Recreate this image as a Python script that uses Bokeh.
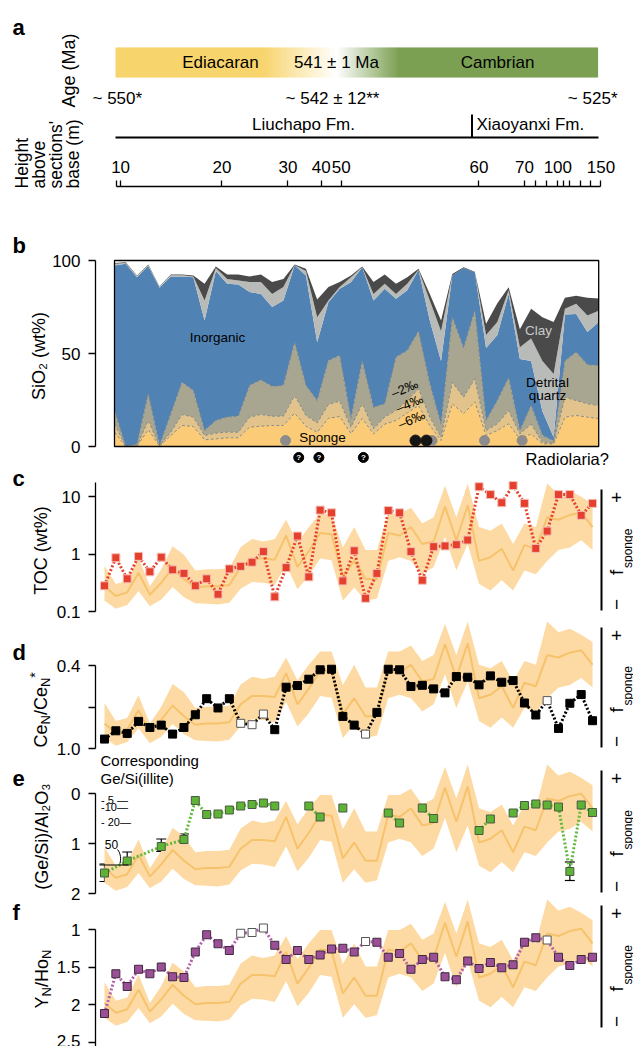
import numpy as np
from math import pi, log10
from bokeh.plotting import figure
from bokeh.models import (Range1d, LinearAxis, LogAxis, FixedTicker, Label, LinearScale, LogScale,
                          Whisker, ColumnDataSource, TeeHead)
from bokeh.embed import file_html
from bokeh.resources import INLINE
from bokeh.core.properties import value

FONT = "Liberation Sans"
W, H = 633, 1046

# ---------------- data ----------------
N = 44
idx = list(range(N))

# panel a : height axis (positions in sample-index units of panel b)
height_major_pos = [0.54, 9.54, 15.4, 18.35, 20.14, 32.36, 36.4, 39.37, 43.2]
height_major_labels = ["10", "20", "30", "40", "50", "60", "70", "100", "150"]
height_minor_pos = [0.18, 37.4, 38.37, 39.84, 40.45, 41.35, 42.25]

# panel b : cumulative SiO2 (wt%) boundaries
b_sponge_m6 = [7.7, 0, 0.2, 9.1, 0.2, 5.9, 11.3, 10.8, 3.6, 4.1, 4.7, 4.7, 10.4, 10.9, 11.3,
               11.3, 17.9, 10.9, 7.7, 15.2, 16.1, 7, 15, 6.8, 12, 14, 18, 22, 11.3, 3.2,
               23, 17.6, 24, 6, 8.6, 12.2, 4, 6.8, 1.4, 1.4, 15.8, 16.7, 15.8, 15]
b_sponge_m4 = [12.2, 0, 0.3, 14, 0.3, 7.7, 17.2, 15.8, 5.9, 7.2, 7.7, 7.7, 15.8, 17.2, 16.3,
               16.3, 27.4, 16.7, 12.7, 22.6, 24.4, 10.4, 23, 9.5, 15.8, 19.4, 24.7, 31, 15.8, 5,
               34.6, 26.5, 36.4, 8.6, 12.2, 19.4, 6.8, 12, 2.3, 1.8, 26.5, 24.7, 23, 22]
b_sponge_m2 = [19.4, 0, 1.4, 28.3, 0.5, 17.6, 34.6, 30.1, 8.6, 14, 15.8, 16.3, 32.8, 35.8, 32.3,
               32.8, 56, 32.8, 24.7, 46.2, 48.9, 15, 46, 21, 23, 48, 51.6, 62, 33.7, 12,
               69.5, 53, 73, 14, 24.7, 37, 8.6, 22, 6, 3, 46, 50.7, 44, 43.5]
b_inorganic_top = [97.3, 98.2, 91, 97, 85.3, 91.4, 91.4, 91, 67.7, 94.3, 87.5, 87.1, 83, 82, 75,
                   78.5, 97.5, 91.9, 56, 77.6, 84.8, 88.3, 96.4, 78.5, 84.8, 79.4, 84, 95, 67.7, 46,
                   92, 96, 93.7, 53, 60, 82, 47, 46, 19, 5, 71, 71.3, 61.5, 67]
b_quartz_top = [98.2, 98.7, 91.6, 97.5, 85.7, 92.1, 92.1, 91.4, 78.5, 96, 90.1, 89.2, 88.4, 88.4, 82,
                85.7, 97.5, 94.3, 69.5, 78.5, 85.7, 91, 96.4, 82, 87.5, 82, 87.5, 95, 78.5, 62,
                92, 96, 93.7, 60, 67, 84, 53.4, 58, 46, 39, 74, 76.7, 70.4, 73]
b_clay_top = [98.6, 99.1, 91.9, 97.8, 86, 92.5, 92.5, 91.9, 87.5, 96.8, 92.5, 92.5, 91.4, 92.5, 88.4,
              90.1, 97.8, 95.5, 79, 85.7, 88.4, 92, 96.8, 88.5, 92.5, 87.5, 91, 95.5, 82, 67.7,
              92.8, 96.4, 94, 66, 77, 85.6, 63, 74, 69.5, 67, 80, 81, 80, 79.6]
sponge_grey_pos = [15.19, 28.2, 32.86, 36.2]
sponge_black_pos = [26.73, 27.7]
question_pos = [16.36, 18.15, 22.1]

# model sponge fraction band (0 = -, 1 = +)
fs_med = [0.20, 0.12, 0.15, 0.31, 0.13, 0.23, 0.35, 0.26, 0.19, 0.20, 0.20, 0.21, 0.36, 0.43, 0.43,
          0.42, 0.62, 0.36, 0.49, 0.64, 0.63, 0.28, 0.41, 0.26, 0.26, 0.64, 0.62, 0.69, 0.55, 0.57,
          0.86, 0.58, 0.87, 0.41, 0.44, 0.51, 0.33, 0.54, 0.51, 0.77, 0.75, 0.79, 0.81, 0.69]
fs_hi = [0.37, 0.22, 0.245, 0.435, 0.20, 0.34, 0.53, 0.46, 0.33, 0.34, 0.34, 0.35, 0.525, 0.59, 0.57,
         0.59, 0.75, 0.56, 0.69, 0.80, 0.80, 0.52, 0.69, 0.50, 0.50, 0.80, 0.80, 0.85, 0.72, 0.77,
         1.03, 0.77, 1.05, 0.69, 0.66, 0.72, 0.55, 0.72, 0.69, 1.05, 0.96, 0.99, 0.94, 0.88]
fs_lo = [0.08, 0.015, 0.045, 0.16, 0.035, 0.09, 0.195, 0.11, 0.06, 0.055, 0.05, 0.065, 0.18, 0.235, 0.23,
         0.21, 0.38, 0.175, 0.285, 0.43, 0.415, 0.08, 0.19, 0.08, 0.10, 0.41, 0.44, 0.41, 0.30, 0.36,
         0.61, 0.33, 0.55, 0.22, 0.165, 0.25, 0.165, 0.33, 0.30, 0.41, 0.50, 0.52, 0.58, 0.50]

# panel c : TOC (wt%)
toc = [0.28, 0.86, 0.37, 0.91, 0.49, 0.88, 0.53, 0.46, 0.28, 0.37, 0.2, 0.55, 0.61, 0.72, 1.1,
       0.18, 0.58, 2.05, 0.4, 5.8, 5.2, 0.34, 1.14, 0.17, 0.46, 5.7, 5.2, 1.1, 0.35, 1.34,
       1.38, 1.45, 1.75, 14.8, 10.8, 7.8, 15.5, 7.6, 1.25, 2.5, 10.8, 10.8, 4.7, 7.6]
# panel d : Ce anomaly
ce = [0.932, 0.872, 0.891, 0.804, 0.848, 0.831, 0.896, 0.848, 0.756, 0.64, 0.707, 0.64, 0.818, 0.828,
      0.751, 0.864, 0.557, 0.545, 0.499, 0.431, 0.427, 0.768, 0.831, 0.896, 0.739, 0.427, 0.431,
      0.552, 0.543, 0.569, 0.598, 0.48, 0.485, 0.54, 0.475, 0.521, 0.509, 0.671, 0.758, 0.654,
      0.855, 0.673, 0.61, 0.799]
open_idx = [12, 13, 14, 23, 39]
# panel e : (Ge/Si)/Al2O3
e_idx = [0, 2, 5, 7, 8, 9, 10, 11, 12, 13, 14, 15, 18, 19, 21, 25, 26, 28, 29, 33, 34, 36, 37, 38,
         39, 40, 41, 42, 43]
e_val = [1.59, 1.35, 1.06, 0.92, 0.14, 0.42, 0.41, 0.33, 0.25, 0.22, 0.19, 0.25, 0.25, 0.47, 0.29,
         0.39, 0.59, 0.29, 0.5, 0.74, 0.51, 0.39, 0.24, 0.21, 0.23, 0.27, 1.56, 0.23, 0.38]
e_err_idx = [0, 2, 5, 7, 41]
e_err_lo = [1.41, 1.17, 0.91, 0.81, 1.37]
e_err_hi = [1.76, 1.49, 1.16, 1.02, 1.74]
illite_labels = ["- 5 \u2014", "-10\u2014", "- 20\u2014"]
illite_pos = [0.13, 0.26, 0.57]
illite50_pos = 1.43
# panel f : Y/Ho
yho = [2.12, 1.59, 1.76, 1.53, 1.59, 1.5, 1.63, 1.64, 1.30, 1.07, 1.19, 1.28, 1.05, 1.04, 0.98,
       1.21, 1.40, 1.28, 1.40, 1.34, 1.26, 1.25, 1.30, 1.16, 1.17, 1.37, 1.32, 1.53, 1.40, 1.37,
       1.63, 1.67, 1.42, 1.52, 1.44, 1.51, 1.47, 1.17, 1.11, 1.14, 1.37, 1.48, 1.40, 1.37]

# ---------------- layout helpers ----------------
BAND = "#FDDAA3"
MED = "#F6C36C"


def xr(v1, p1, v2, p2):
    """range whose value v1 sits at page x p1 and v2 at page x p2"""
    s = (v2 - v1) / (p2 - p1)
    return Range1d(v1 - p1 * s, v1 + (W - p1) * s)


def yr(v1, p1, v2, p2, log=False):
    """range whose value v1 sits at page y p1 and v2 at page y p2"""
    if log:
        v1, v2 = log10(v1), log10(v2)
    s = (v2 - v1) / (p2 - p1)
    bot, top = v1 + (H - p1) * s, v1 - p1 * s
    if log:
        bot, top = 10 ** bot, 10 ** top
    return Range1d(bot, top)


p = figure(width=W, height=H, x_range=Range1d(0, W), y_range=Range1d(H, 0),
           output_backend="svg", toolbar_location=None, x_axis_location=None,
           y_axis_location=None, min_border=0, min_border_left=0, min_border_right=0,
           min_border_top=0, min_border_bottom=0)
p.outline_line_color = None
p.grid.visible = False
p.background_fill_color = "white"
p.border_fill_color = "white"

p.extra_x_ranges = {"bx": xr(0, 114, 43, 598.2), "cx": xr(0, 104, 43, 592.05)}
p.extra_y_ranges = {
    "b": yr(0, 446, 100, 260),
    "c": yr(0.1, 611, 10, 496, log=True),
    "d": yr(0.4, 665, 1.0, 748),
    "e": yr(0, 793, 2, 893),
    "f": yr(1, 929, 2, 1004),
    "fs_c": yr(0, 610, 1, 489),
    "fs_d": yr(0, 747, 1, 627),
    "fs_e": yr(0, 892, 1, 770),
    "fs_f": yr(0, 1027, 1, 905),
}
p.extra_y_scales = {k: (LogScale() if k == "c" else LinearScale()) for k in p.extra_y_ranges}


def lab(x, y, text, size=17, align="center", baseline="middle", angle=0.0,
        color="black", style="normal", yname=None):
    kw = dict(x=x, y=y, text=text, text_font=FONT, text_font_size=f"{size}px",
              text_align=align, text_baseline=baseline, angle=angle, text_color=color,
              text_font_style=style)
    if yname:
        kw["y_range_name"] = yname
    p.add_layout(Label(**kw))


def left_axis(yname, ticks, bounds, overrides=None, log=False, minor=None):
    cls = LogAxis if log else LinearAxis
    ax = cls(y_range_name=yname, ticker=FixedTicker(ticks=ticks, minor_ticks=minor or []),
             bounds=bounds, fixed_location=95, axis_line_width=1.3,
             major_tick_line_width=1.3, major_tick_out=7, major_tick_in=0,
             minor_tick_line_width=1.3, minor_tick_out=7, minor_tick_in=0,
             major_label_text_font=FONT, major_label_text_font_size="17px",
             major_label_standoff=8, major_label_text_color="black")
    if overrides:
        ax.major_label_overrides = overrides
    p.add_layout(ax, "left")


def sponge_side(fsname, top, bot):
    ax = LinearAxis(y_range_name=fsname, ticker=FixedTicker(ticks=[]), bounds=(0, 1),
                    fixed_location=601, axis_line_width=2,
                    major_tick_line_color=None, minor_tick_line_color=None)
    p.add_layout(ax, "right")
    c = (top + bot) / 2
    lab(616, top + 8, "+", 19, angle=pi / 2)
    lab(616, bot - 6, "\u2212", 19, angle=pi / 2)
    lab(616, c + 25, "f", 19, align="left", angle=pi / 2)
    lab(627, c + 18, "sponge", 12, align="left", angle=pi / 2)
    p.varea(x=idx, y1=fs_lo, y2=fs_hi, x_range_name="cx", y_range_name=fsname,
            fill_color=BAND, fill_alpha=1.0)
    p.line(x=idx, y=fs_med, x_range_name="cx", y_range_name=fsname, line_color=MED,
           line_width=2)


def letter(y, t):
    lab(12, y, t, 22, align="left", baseline="alphabetic", style="bold")


def series(yname, ys, color, fill, edge, open_points=None):
    kw = dict(x_range_name="cx", y_range_name=yname)
    p.line(x=idx, y=ys, line_color=color, line_width=3, line_dash="2 2", **kw)
    op = set(open_points or [])
    fx = [i for i in idx if i not in op]
    p.scatter(x=fx, y=[ys[i] for i in fx], marker="square", size=8, fill_color=fill,
              line_color=edge, line_width=1, **kw)
    if op:
        ox = sorted(op)
        p.scatter(x=ox, y=[ys[i] for i in ox], marker="square", size=8, fill_color="white",
                  line_color="#555555", line_width=1, **kw)


# ---------------- panel a ----------------
Y_COL = np.array([248, 212, 108])
G_COL = np.array([124, 160, 83])
WH = np.array([255, 255, 255])


def grad(x):
    if x <= 262:
        c = Y_COL
    elif x <= 336:
        t = (x - 262) / 74.0
        c = Y_COL + (WH - Y_COL) * t
    elif x <= 398:
        t = (x - 336) / 62.0
        c = WH + (G_COL - WH) * t
    else:
        c = G_COL
    return "#%02x%02x%02x" % tuple(int(round(v)) for v in c)


gx = np.linspace(115, 597, 242)
p.quad(left=gx[:-1], right=gx[1:] + 0.6, top=[47] * 241, bottom=[77] * 241,
       fill_color=[grad((a + b) / 2) for a, b in zip(gx[:-1], gx[1:])], line_color=None)
letter(27, "a")
lab(220, 62, "Ediacaran", 17)
lab(336, 62, "541 \u00b1 1 Ma", 17)
lab(497, 62, "Cambrian", 17)
lab(68, 70, "Age (Ma)", 18, angle=pi / 2)
lab(92, 98, "~ 550*", 17, align="left")
lab(332, 98, "~ 542 \u00b1 12**", 17)
lab(617, 98, "~ 525*", 17, align="right")
lab(303, 124, "Liuchapo Fm.", 17)
lab(476, 124, "Xiaoyanxi Fm.", 17, align="left")
p.line(x=[115, 598], y=[137, 137], line_color="black", line_width=2)
p.line(x=[471.5, 471.5], y=[114, 137], line_color="black", line_width=2)
for xx, t in zip([21, 38, 55, 72], ["Height", "above", "sections'", "base (m)"]):
    lab(xx, 188, t, 17.5, align="left", angle=pi / 2)
hax = LinearAxis(x_range_name="bx",
                 ticker=FixedTicker(ticks=height_major_pos, minor_ticks=height_minor_pos),
                 bounds=(0.18, 43.2), fixed_location=186,
                 axis_line_width=1.3, major_tick_line_width=1.3, major_tick_in=0,
                 major_tick_out=6, minor_tick_line_width=1.3, minor_tick_in=0, minor_tick_out=6,
                 major_label_text_font=FONT, major_label_text_font_size="17px",
                 major_label_standoff=8, major_label_text_color="black",
                 major_label_overrides=dict(zip(height_major_pos, height_major_labels)))
p.add_layout(hax, "above")

# ---------------- panel b ----------------
BK = dict(x_range_name="bx", y_range_name="b")
zeros = [0] * N
layers = [(zeros, b_sponge_m6, "#FBCB77"), (b_sponge_m6, b_sponge_m4, "#E2C38B"),
          (b_sponge_m4, b_sponge_m2, "#A8A690"), (b_sponge_m2, b_inorganic_top, "#5182B4"),
          (b_inorganic_top, b_quartz_top, "#B9BBB8"), (b_quartz_top, b_clay_top, "#4A4A4A")]
for lo, hi, col in layers:
    p.varea(x=idx, y1=lo, y2=hi, fill_color=col, **BK)
for arr in (b_sponge_m6, b_sponge_m4, b_sponge_m2):
    p.line(x=idx, y=arr, line_color="#858578", line_width=0.9, line_dash="3 2", **BK)
p.quad(left=[0], right=[N - 1], bottom=[0], top=[100], fill_color=None, line_color="black",
       line_width=1.3, **BK)
left_axis("b", [0, 50, 100], (0, 100))
p.scatter(x=sponge_grey_pos, y=[3.2] * len(sponge_grey_pos), size=10, color="#8C8C8C", **BK)
p.scatter(x=sponge_black_pos, y=[3.2] * len(sponge_black_pos), size=11, color="#151515", **BK)
p.scatter(x=question_pos, y=[-5.9] * len(question_pos), size=10, color="black", **BK)
p.text(x=question_pos, y=[-5.9] * len(question_pos), text=["?"] * len(question_pos),
       text_font=value(FONT), text_font_size="8px", text_font_style="bold",
       text_color="white", text_align="center", text_baseline="middle", **BK)
letter(245, "b")
lab(38, 353, "SiO\u2082  (wt%)", 18, angle=pi / 2)
lab(217, 337, "Inorganic", 13.5)
lab(322, 437, "Sponge", 13.5)
lab(538, 330, "Clay", 13.5, color="#C9C9C9")
lab(547, 382, "Detrital", 13.5)
lab(547, 395, "quartz", 13.5)
lab(404, 388, "\u20132\u2030", 13, angle=0.4)
lab(409, 403, "\u20134\u2030", 13, angle=0.4)
lab(411, 419, "\u20136\u2030", 13, angle=0.4)
lab(525, 458, "Radiolaria?", 16.5, align="left")

# ---------------- panel c ----------------
sponge_side("fs_c", 489, 610)
series("c", toc, "#E5402E", "#E5402E", "#F4C0B6")
left_axis("c", [0.1, 1, 10], (0.1, 17.5), {0.1: "0.1", 1: "1", 10: "10"}, log=True)
letter(478, "c")
lab(40, 550, "TOC (wt%)", 18, angle=pi / 2)

# ---------------- panel d ----------------
sponge_side("fs_d", 627, 747)
series("d", ce, "black", "black", "black", open_idx)
left_axis("d", [0.4, 1.0], (0.4, 1.0), {0.4: "0.4", 1.0: "1.0"}, minor=[0.7])
letter(652, "d")
for xx, yy, t, s in [(40, 747, "Ce", 18), (45, 724, "N", 13), (40, 714.6, "/Ce", 18),
                     (45, 686.6, "N", 13), (34, 677.2, "*", 14)]:
    lab(xx, yy, t, s, align="left", angle=pi / 2)

# ---------------- panel e ----------------
sponge_side("fs_e", 770, 892)
EK = dict(x_range_name="cx", y_range_name="e")
has_err = set(e_err_idx)
seg_x, seg_y = [], []
cx_, cy_ = [e_idx[0]], [e_val[0]]
for k in range(1, len(e_idx)):
    a, b = e_idx[k - 1], e_idx[k]
    if b - a == 1 or (a in has_err and b in has_err):
        cx_.append(b); cy_.append(e_val[k])
    else:
        if len(cx_) > 1:
            seg_x.append(cx_); seg_y.append(cy_)
        cx_, cy_ = [b], [e_val[k]]
if len(cx_) > 1:
    seg_x.append(cx_); seg_y.append(cy_)
p.multi_line(xs=seg_x, ys=seg_y, line_color="#62BB3C", line_width=3, line_dash="2 2", **EK)
wsrc = ColumnDataSource(dict(x=e_err_idx, lo=e_err_lo, hi=e_err_hi))
p.add_layout(Whisker(source=wsrc, base="x", lower="lo", upper="hi", dimension="height",
                     line_color="black", line_width=1.2, **EK,
                     upper_head=TeeHead(size=10, line_width=1.2, line_color="black"),
                     lower_head=TeeHead(size=10, line_width=1.2, line_color="black")))
p.scatter(x=e_idx, y=e_val, marker="square", size=8, fill_color="#5EB236",
          line_color="#4A5A42", line_width=1, **EK)
left_axis("e", [0, 1, 2], (0, 2))
letter(778, "e")
lab(100, 760, "Corresponding", 15, align="left")
lab(100, 778, "Ge/Si(illite)", 15, align="left")
for t, v in zip(illite_labels, illite_pos):
    lab(100.5, v, t, 11, align="left", yname="e")
lab(111, 1.01, "50", 12, yname="e")
p.line(x=[99, 128], y=[illite50_pos, illite50_pos], y_range_name="e", line_color="black",
       line_width=1.2)
p.bezier(x0=[117], y0=[1.12], x1=[119.5], y1=[1.40], cx0=[120.5], cy0=[1.2], cx1=[120.5],
         cy1=[1.32], y_range_name="e", line_color="black", line_width=1)
lab(41, 836, "(Ge/Si)/Al\u2082O\u2083", 18, angle=pi / 2)

# ---------------- panel f ----------------
sponge_side("fs_f", 905, 1027)
series("f", yho, "#B25FAD", "#9B4F96", "#3F2B3E", open_idx)
left_axis("f", [1, 1.5, 2, 2.5], (1, 2.6), {1: "1", 1.5: "1.5", 2: "2", 2.5: "2.5"})
letter(912, "f")
for xx, yy, t, s in [(41, 1008, "Y", 18), (46, 996, "N", 13), (41, 986.6, "/Ho", 18),
                     (46, 958.6, "N", 13)]:
    lab(xx, yy, t, s, align="left", angle=pi / 2)

html = file_html(p, INLINE, "chart")
open("out.html", "w").write(html)
